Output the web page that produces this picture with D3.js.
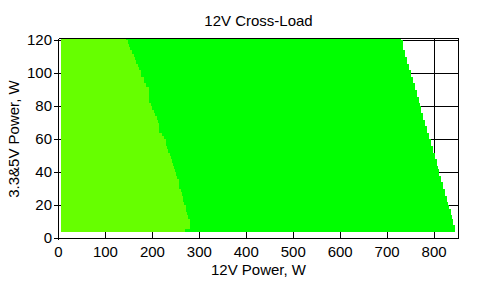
<!DOCTYPE html>
<html>
<head>
<meta charset="utf-8">
<script src="https://cdn.jsdelivr.net/npm/d3@7/dist/d3.min.js"></script>
<style>
  body { margin: 0; background: #fff; }
  svg { display: block; font-family: "Liberation Sans", Arial, sans-serif; }
</style>
</head>
<body>
<script>
// 3.3&5V load levels (bottom of each tested row, W)
const rowLevels = [4, 6, 8, 10, 12, 14, 16, 18, 20, 22, 24, 26, 28, 30, 32, 34, 36, 38, 40,
  42, 44, 46, 48, 50, 52, 54, 56, 58, 60, 62, 64, 66, 68, 70, 72, 74, 76, 78, 80,
  82, 84, 86, 88, 90, 92, 94, 96, 98, 100, 102, 104, 106, 108, 110, 112, 114, 116, 118, 120];
// 12V power where the light-green zone ends, per row
const limeEdge = [270, 281, 281, 280, 276, 274, 272, 271, 268, 266, 265, 262, 260, 257, 256, 256, 252, 250, 248,
  246, 243, 242, 240, 237, 234, 232, 230, 228, 225, 221, 215, 213, 213, 211, 210, 205, 203, 200, 196,
  192, 192, 192, 192, 192, 187, 183, 183, 175, 175, 172, 170, 166, 163, 160, 156, 153, 150, 147, 143];
// 12V power where the green zone ends (max load), per row
const greenEdge = [845, 845, 841, 841, 838, 836, 836, 832, 830, 828, 828, 824, 824, 819, 819, 815, 815, 811, 811,
  809, 807, 807, 802, 802, 798, 798, 794, 794, 790, 790, 785, 785, 781, 781, 777, 777, 772, 772, 770,
  768, 768, 764, 764, 760, 760, 755, 755, 751, 751, 747, 747, 742, 742, 738, 738, 734, 734, 734, 730];
const startLoad = 5.3; // lowest 12V load tested
const rowTop = 121.2;  // top of plot
const xTicks = [0, 100, 200, 300, 400, 500, 600, 700, 800];
const yTicks = [0, 20, 40, 60, 80, 100, 120];

const W = 487, H = 286;
const x = d3.scaleLinear().domain([0, 852]).range([58.5, 458.5]);
const y = d3.scaleLinear().domain([0, rowTop]).range([238.5, 38.5]);

const svg = d3.select("body").append("svg").attr("width", W).attr("height", H);

// grid (fills are drawn over it)
const grid = svg.append("g").attr("stroke", "#000").attr("stroke-width", 1).attr("shape-rendering", "crispEdges");
grid.selectAll("line.h").data(yTicks.slice(1)).enter().append("line")
  .attr("x1", x(0)).attr("x2", x.range()[1])
  .attr("y1", (d) => y(d)).attr("y2", (d) => y(d));
grid.selectAll("line.v").data(xTicks.slice(1)).enter().append("line")
  .attr("x1", (d) => x(d)).attr("x2", (d) => x(d))
  .attr("y1", y(rowTop)).attr("y2", y(0));

// rows
const rows = rowLevels.map((lv, i) => ({
  lo: lv,
  hi: i < rowLevels.length - 1 ? rowLevels[i + 1] : rowTop,
  lime: limeEdge[i],
  green: greenEdge[i],
}));
const fills = svg.append("g").attr("shape-rendering", "crispEdges");
fills.selectAll("rect.g").data(rows).enter().append("rect")
  .attr("x", (d) => x(d.lime)).attr("width", (d) => x(d.green) - x(d.lime))
  .attr("y", (d) => y(d.hi)).attr("height", (d) => y(d.lo) - y(d.hi))
  .attr("fill", "#00ff00");
fills.selectAll("rect.l").data(rows).enter().append("rect")
  .attr("x", x(startLoad)).attr("width", (d) => x(d.lime) - x(startLoad))
  .attr("y", (d) => y(d.hi)).attr("height", (d) => y(d.lo) - y(d.hi))
  .attr("fill", "#66ff00");

// frame
const frame = svg.append("g").attr("stroke", "#000").attr("shape-rendering", "crispEdges");
frame.append("line").attr("x1", x(0)).attr("x2", x.range()[1]).attr("y1", y(rowTop)).attr("y2", y(rowTop));
frame.append("line").attr("x1", x.range()[1]).attr("x2", x.range()[1]).attr("y1", y(rowTop)).attr("y2", y(0));
frame.append("line").attr("x1", x(0)).attr("x2", x.range()[1]).attr("y1", y(0)).attr("y2", y(0));
frame.append("line").attr("x1", x(0)).attr("x2", x(0)).attr("y1", y(rowTop)).attr("y2", y(0) + 1);
frame.selectAll("line.yt").data(yTicks).enter().append("line")
  .attr("x1", x(0) - 5).attr("x2", x(0)).attr("y1", (d) => y(d)).attr("y2", (d) => y(d));

// tick labels
svg.append("g").selectAll("text").data(xTicks).enter().append("text")
  .attr("x", (d) => x(d)).attr("y", 257).attr("text-anchor", "middle")
  .style("font-size", "15px").text((d) => d);
svg.append("g").selectAll("text").data(yTicks).enter().append("text")
  .attr("x", 52).attr("y", (d) => y(d)).attr("dy", "0.32em").attr("text-anchor", "end")
  .style("font-size", "15px").text((d) => d);

// titles
svg.append("text").attr("x", 258.5).attr("y", 26).attr("text-anchor", "middle")
  .style("font-size", "15px").text("12V Cross-Load");
svg.append("text").attr("x", 258.5).attr("y", 275).attr("text-anchor", "middle")
  .style("font-size", "15px").text("12V Power, W");
svg.append("text").attr("transform", "translate(19,139) rotate(-90)").attr("text-anchor", "middle")
  .style("font-size", "15px").text("3.3&5V Power, W");
</script>
</body>
</html>
